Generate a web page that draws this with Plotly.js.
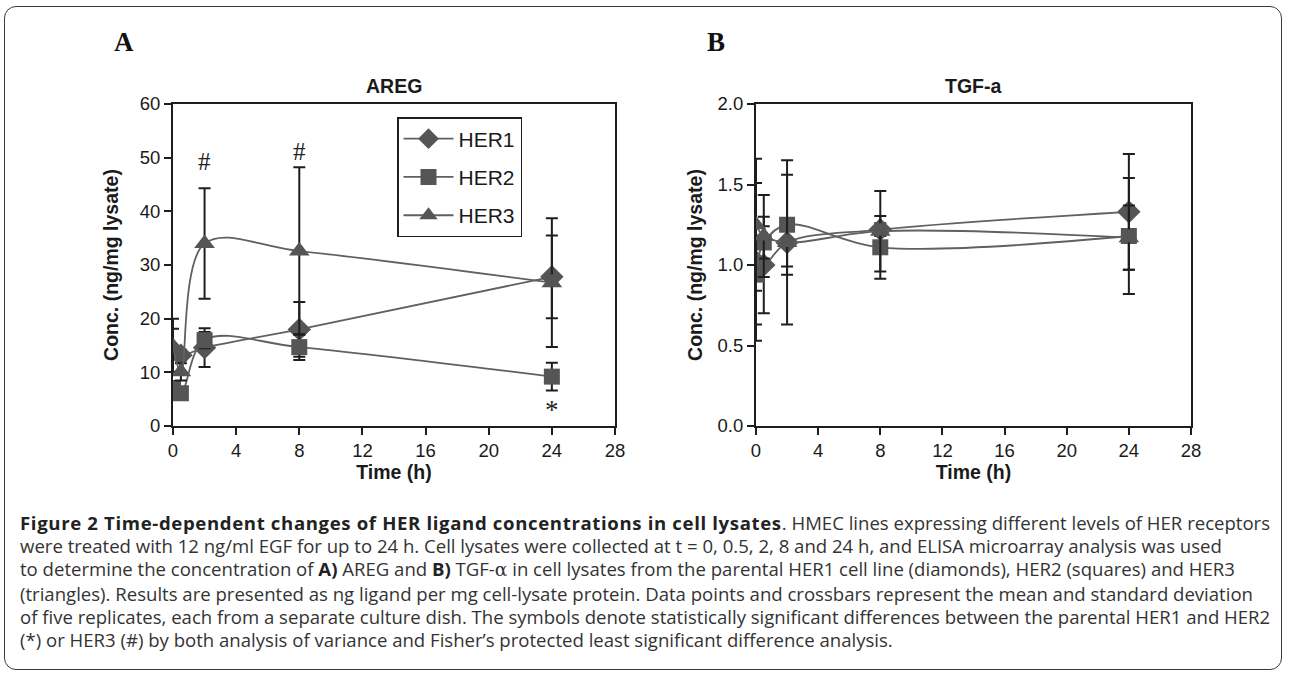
<!DOCTYPE html>
<html>
<head>
<meta charset="utf-8">
<script src="https://cdn.plot.ly/plotly-3.0.1.min.js"></script>
<style>
  html, body { margin: 0; padding: 0; background: #ffffff; width: 1289px; height: 676px; overflow: hidden; }
  #frame { position: absolute; left: 4px; top: 6px; width: 1278px; height: 664px; border: 1.5px solid #3a3a3a; border-radius: 12px; box-sizing: border-box; }
  #chart { position: absolute; left: 0; top: 0; width: 1289px; height: 676px; }
  #caption { position: absolute; left: 20px; top: 511px; font-family: "Open Sans", "Noto Sans", sans-serif; font-size: 15.6px; line-height: 23.2px; color: #333333; white-space: nowrap; }
  #caption div { width: max-content; }
  #caption b { color: #222222; }
</style>
</head>
<body>
<div id="frame"></div>
<div id="chart"></div>
<div id="caption">
  <div id="cap1"><b id="capb">Figure 2 Time-dependent changes of HER ligand concentrations in cell lysates</b>. HMEC lines expressing different levels of HER receptors</div>
  <div>were treated with 12 ng/ml EGF for up to 24 h. Cell lysates were collected at t = 0, 0.5, 2, 8 and 24 h, and ELISA microarray analysis was used</div>
  <div>to determine the concentration of <b>A)</b> AREG and <b>B)</b> TGF-<span style="font-family:'DejaVu Serif',serif;">α</span> in cell lysates from the parental HER1 cell line (diamonds), HER2 (squares) and HER3</div>
  <div>(triangles). Results are presented as ng ligand per mg cell-lysate protein. Data points and crossbars represent the mean and standard deviation</div>
  <div id="cap5">of five replicates, each from a separate culture dish. The symbols denote statistically significant differences between the parental HER1 and HER2</div>
  <div>(*) or HER3 (#) by both analysis of variance and Fisher’s protected least significant difference analysis.</div>
</div>
<script>
// ---- Data ----
var timeH = [0, 0.5, 2, 8, 24];
var seriesNames = ["HER1", "HER2", "HER3"];

// Panel A: AREG (ng/mg lysate)
var her1A = [14.1, 13.2, 14.6, 18.0, 27.8];
var her1AErr = [4.0, 1.0, 3.6, 5.1, 7.7];
var her2A = [7.0, 6.1, 16.0, 14.7, 9.2];
var her2AErr = [1.4, 0.8, 1.5, 2.4, 2.6];
var her3A = [14.8, 10.1, 34.0, 32.6, 26.7];
var her3AErr = [5.2, 1.6, 10.3, 15.6, 12.0];

// Panel B: TGF-a (ng/mg lysate)
var her1B = [1.02, 1.00, 1.14, 1.22, 1.33];
var her1BErr = [0.49, 0.30, 0.15, 0.04, 0.36];
var her2B = [0.94, 1.14, 1.25, 1.11, 1.18];
var her2BErr = [0.31, 0.10, 0.31, 0.195, 0.36];
var her3B = [1.25, 1.18, 1.14, 1.21, 1.17];
var her3BErr = [0.41, 0.255, 0.51, 0.25, 0.20];

// Significance marks (panel A)
var hashX = [2, 8];
var hashY = [49.3, 51.2];
var starX = [24];
var starY = [2.9];

var xTicks = [0, 4, 8, 12, 16, 20, 24, 28];
var yTicksA = [0, 10, 20, 30, 40, 50, 60];
var yTicksB = [0, 0.5, 1.0, 1.5, 2.0];
var yTickTextB = ["0.0", "0.5", "1.0", "1.5", "2.0"];

// ---- Styles ----
var symbols = ["diamond", "square", "triangle-up"];
var sizes = [18, 16, 18];
var markerColor = "#555555";
var lineColor = "#606060";
var errColor = "#1e1e1e";
var FONT = "Liberation Sans, Arial, sans-serif";

function mk(x, y, err, idx, xa, ya, showLeg) {
  return {
    x: x, y: y, type: "scatter", mode: "lines+markers",
    name: seriesNames[idx], legendgroup: seriesNames[idx], showlegend: showLeg,
    xaxis: xa, yaxis: ya,
    line: { color: lineColor, width: 1.8, shape: "spline", smoothing: 1 },
    marker: { symbol: symbols[idx], size: sizes[idx], color: markerColor },
    error_y: { type: "data", array: err, visible: true, color: errColor, thickness: 2, width: 6 }
  };
}

var data = [
  mk(timeH, her1A, her1AErr, 0, "x", "y", true),
  mk(timeH, her2A, her2AErr, 1, "x", "y", true),
  mk(timeH, her3A, her3AErr, 2, "x", "y", true),
  mk(timeH, her1B, her1BErr, 0, "x2", "y2", false),
  mk(timeH, her2B, her2BErr, 1, "x2", "y2", false),
  mk(timeH, her3B, her3BErr, 2, "x2", "y2", false)
];

var W = 1289, H = 676;
function px2x(p) { return p / W; }
function px2y(p) { return 1 - p / H; }

var axCommon = {
  showgrid: false, zeroline: false, showline: true, linecolor: "#1e1e1e", linewidth: 2,
  mirror: true, ticks: "outside", ticklen: 7, tickwidth: 2, tickcolor: "#1e1e1e",
  tickfont: { family: FONT, size: 18.5, color: "#1a1a1a" }, fixedrange: true
};
function ax(extra) { var o = {}; for (var k in axCommon) o[k] = axCommon[k]; for (var k2 in extra) o[k2] = extra[k2]; return o; }

var titleFont = { family: FONT, size: 19.5, color: "#1a1a1a", weight: "bold" };

var layout = {
  width: W, height: H,
  margin: { l: 0, r: 0, t: 0, b: 0 },
  paper_bgcolor: "rgba(0,0,0,0)", plot_bgcolor: "rgba(0,0,0,0)",
  showlegend: true,
  legend: {
    x: px2x(397), y: px2y(117), xanchor: "left", yanchor: "top",
    bordercolor: "#1e1e1e", borderwidth: 1.5, bgcolor: "#ffffff",
    font: { family: FONT, size: 21, color: "#1a1a1a" },
    traceorder: "grouped", tracegroupgap: 8, itemwidth: 50
  },
  xaxis: ax({ domain: [px2x(173), px2x(615)], range: [0, 28], tickvals: xTicks, anchor: "y",
    title: { text: "<b>Time (h)</b>", font: titleFont, standoff: 1 } }),
  yaxis: ax({ domain: [px2y(426), px2y(104)], range: [0, 60], tickvals: yTicksA, anchor: "x",
    title: { text: "<b>Conc. (ng/mg lysate)</b>", font: titleFont, standoff: 16 } }),
  xaxis2: ax({ domain: [px2x(756), px2x(1191)], range: [0, 28], tickvals: xTicks, anchor: "y2",
    title: { text: "<b>Time (h)</b>", font: titleFont, standoff: 1 } }),
  yaxis2: ax({ domain: [px2y(426), px2y(104)], range: [0, 2], tickvals: yTicksB, ticktext: yTickTextB, anchor: "x2",
    title: { text: "<b>Conc. (ng/mg lysate)</b>", font: titleFont, standoff: 10 } }),
  annotations: [
    { text: "<b>AREG</b>", xref: "paper", yref: "paper", x: px2x(394), y: px2y(86), showarrow: false,
      font: { family: FONT, size: 19.5, color: "#1a1a1a" }, xanchor: "center", yanchor: "middle" },
    { text: "<b>TGF-a</b>", xref: "paper", yref: "paper", x: px2x(973), y: px2y(86), showarrow: false,
      font: { family: FONT, size: 19.5, color: "#1a1a1a" }, xanchor: "center", yanchor: "middle" },
    { text: "<b>A</b>", xref: "paper", yref: "paper", x: px2x(124), y: px2y(42), showarrow: false,
      font: { family: "Liberation Serif, Times New Roman, serif", size: 27, color: "#111111" }, xanchor: "center", yanchor: "middle" },
    { text: "<b>B</b>", xref: "paper", yref: "paper", x: px2x(716), y: px2y(42), showarrow: false,
      font: { family: "Liberation Serif, Times New Roman, serif", size: 27, color: "#111111" }, xanchor: "center", yanchor: "middle" }
  ]
};

for (var i = 0; i < hashX.length; i++) {
  layout.annotations.push({ text: "#", xref: "x", yref: "y", x: hashX[i], y: hashY[i], showarrow: false,
    font: { family: "Liberation Serif, Times New Roman, serif", size: 25, color: "#222222" }, xanchor: "center", yanchor: "middle" });
}
for (var j = 0; j < starX.length; j++) {
  layout.annotations.push({ text: "*", xref: "x", yref: "y", x: starX[j], y: starY[j], showarrow: false,
    font: { family: "Liberation Serif, Times New Roman, serif", size: 27, color: "#222222" }, xanchor: "center", yanchor: "middle" });
}

Plotly.newPlot("chart", data, layout, { staticPlot: true, displayModeBar: false });

// Fit caption: regular line 5 and bold-start line 1 both span ~1250px in the figure
function fitCaption() {
  var cap = document.getElementById("caption");
  var l5 = document.getElementById("cap5");
  var b = document.getElementById("capb");
  var base = 15.6;
  b.style.letterSpacing = "0px";
  cap.style.fontSize = base + "px";
  var w5 = l5.getBoundingClientRect().width;
  var fs = base * 1250 / w5;
  cap.style.fontSize = fs.toFixed(2) + "px";
  var l1 = document.getElementById("cap1");
  var w1 = l1.getBoundingClientRect().width;
  var extra = 1250 - w1;
  var n = b.textContent.length;
  if (extra > 0 && n > 0) { b.style.letterSpacing = (extra / n).toFixed(3) + "px"; }
}
fitCaption();
if (document.fonts && document.fonts.ready) { document.fonts.ready.then(fitCaption); }
</script>
</body>
</html>
